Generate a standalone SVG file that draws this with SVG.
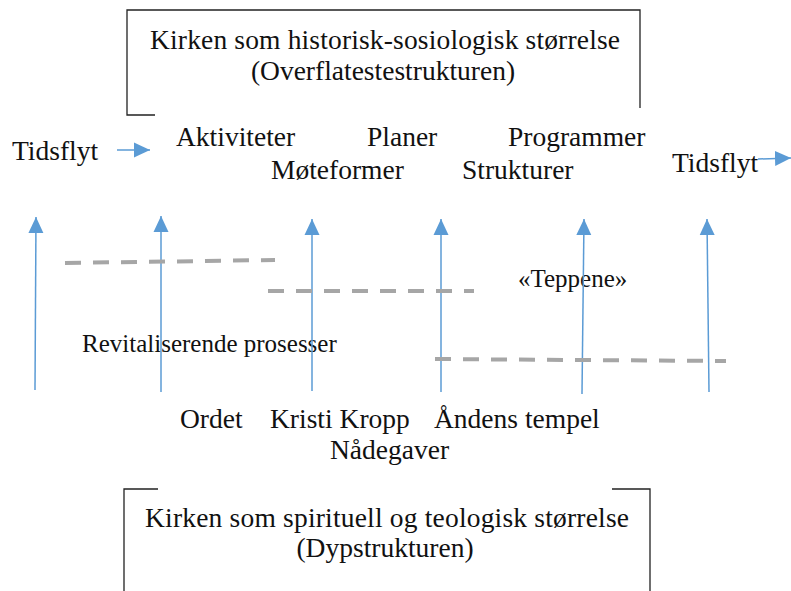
<svg xmlns="http://www.w3.org/2000/svg" width="791" height="591" viewBox="0 0 791 591">
<style>
.t{font-family:"Liberation Serif","Times New Roman",serif;font-size:27.5px;fill:#111}
.s{font-family:"Liberation Serif","Times New Roman",serif;font-size:25px;fill:#111}
.box{fill:none;stroke:#222;stroke-width:1.3}
.ar{stroke:#5B9BD5;stroke-width:1.5;fill:none;marker-end:url(#ah)}
.ds{stroke:#A6A6A6;stroke-width:4;stroke-dasharray:16 12;fill:none}
</style>
<defs>
<marker id="ah" markerUnits="userSpaceOnUse" markerWidth="16" markerHeight="16" viewBox="0 0 16 16" refX="16" refY="8" orient="auto">
<path d="M0,0.5 L16,8 L0,15.5 z" fill="#5B9BD5"/>
</marker>
</defs>
<g id="top-box">
<path class="box" d="M155,115 H127 V10 H640 V108"/>
<text class="t" x="385" y="49" text-anchor="middle" textLength="470">Kirken som historisk-sosiologisk størrelse</text>
<text class="t" x="383" y="80" text-anchor="middle">(Overflatestestrukturen)</text>
</g>
<g id="bottom-box">
<path class="box" d="M158,489 H124 V591 M612,489 H650 V591"/>
<text class="t" x="387" y="527" text-anchor="middle" textLength="484">Kirken som spirituell og teologisk størrelse</text>
<text class="t" x="385" y="557" text-anchor="middle">(Dypstrukturen)</text>
</g>
<g id="surface-labels">
<text class="t" x="12" y="160">Tidsflyt</text>
<text class="t" x="176" y="146">Aktiviteter</text>
<text class="t" x="367" y="146">Planer</text>
<text class="t" x="508" y="146">Programmer</text>
<text class="t" x="271" y="179">Møteformer</text>
<text class="t" x="462" y="179">Strukturer</text>
<text class="t" x="672" y="172">Tidsflyt</text>
</g>
<g id="middle-labels">
<text class="s" x="518" y="287">«Teppene»</text>
<text class="s" x="82" y="352">Revitaliserende prosesser</text>
</g>
<g id="deep-labels">
<text class="t" x="180" y="428">Ordet</text>
<text class="t" x="270" y="428">Kristi Kropp</text>
<text class="t" x="434" y="428">Åndens tempel</text>
<text class="t" x="330" y="459">Nådegaver</text>
</g>
<g id="connectors">
<path class="ar" d="M117,150 L150,150"/>
<path class="ar" d="M758,159 L791,158"/>
<path class="ar" d="M35,390 L36,217"/>
<path class="ar" d="M161,392 L161,216"/>
<path class="ar" d="M312,391 L312,219"/>
<path class="ar" d="M441,392 L441,219"/>
<path class="ar" d="M582,394 L584,219"/>
<path class="ar" d="M709,392 L707,219"/>
<path class="ds" d="M65,263 L275,260"/>
<path class="ds" d="M268,291 L474,291"/>
<path class="ds" d="M435,359 L726,361"/>
</g>
</svg>
